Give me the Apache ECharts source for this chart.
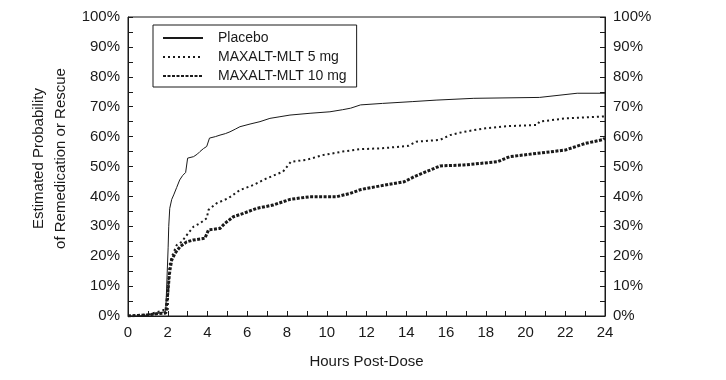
<!DOCTYPE html>
<html>
<head>
<meta charset="utf-8">
<script src="https://cdn.jsdelivr.net/npm/echarts@6/dist/echarts.min.js"></script>
<style>html,body{margin:0;padding:0;background:#fff}#c{width:726px;height:380px}</style>
</head>
<body>
<div id="c"></div>
<script>
var seriesNames = ['Placebo', 'MAXALT-MLT 5 mg', 'MAXALT-MLT 10 mg'];
var xTicks = [0, 2, 4, 6, 8, 10, 12, 14, 16, 18, 20, 22, 24];
var yTicks = [0, 10, 20, 30, 40, 50, 60, 70, 80, 90, 100];

var placeboHours = [0, 0.5, 1.0, 1.3, 1.6, 1.9, 2.0, 2.02, 2.05, 2.1, 2.2, 2.3, 2.45, 2.6, 2.75, 2.9, 3.0, 3.3, 3.5, 3.62, 3.8, 3.96, 4.1, 4.4, 4.63, 4.9, 5.13, 5.4, 5.63, 6.14, 6.64, 7.14, 7.6, 8.15, 9.16, 10.16, 10.8, 11.2, 11.7, 12.8, 14.3, 15.5, 17.4, 20.7, 22.6, 24];
var placeboPct = [0, 0, 0.3, 0.6, 1.0, 1.5, 1.5, 23, 30, 36, 39, 40.5, 43, 45.5, 47, 48, 52.8, 53.3, 54.2, 55, 56, 56.7, 59.5, 60, 60.5, 61, 61.6, 62.5, 63.3, 64.2, 65, 66.1, 66.6, 67.2, 67.8, 68.3, 69, 69.5, 70.6, 71.1, 71.7, 72.2, 72.8, 73.1, 74.5, 74.5];

var mlt5Hours = [0, 0.6, 1.0, 1.3, 1.6, 1.8, 2.0, 2.03, 2.07, 2.11, 2.2, 2.28, 2.45, 2.7, 3.03, 3.3, 3.62, 3.96, 4.05, 4.46, 5.05, 5.63, 6.3, 6.97, 7.8, 8.2, 8.97, 9.8, 10.8, 11.7, 12.8, 14.1, 14.5, 15.7, 16.2, 16.9, 18, 19.1, 20.6, 20.7, 22, 23.9, 24];
var mlt5Pct = [0, 0.3, 0.5, 1.0, 1.5, 2.0, 2.2, 10, 15, 17.7, 19.8, 21, 23.7, 24.8, 27.7, 29.9, 31, 32.7, 35.5, 37.7, 39.4, 42.1, 43.8, 46, 48.3, 51.6, 52.2, 53.8, 55, 55.8, 56.1, 56.9, 58.3, 58.9, 60.5, 61.6, 62.8, 63.5, 63.9, 65, 66.1, 66.7, 66.7];

var mlt10Hours = [0, 0.5, 1.0, 1.5, 1.9, 2.0, 2.03, 2.07, 2.11, 2.2, 2.37, 2.62, 2.95, 3.28, 3.87, 4.05, 4.63, 4.88, 5.3, 5.8, 6.47, 7.3, 8.15, 9.16, 10.5, 11.17, 11.67, 12, 13.9, 14.4, 15.2, 15.7, 16.9, 18.6, 19.2, 20.6, 22, 23, 23.9, 24];
var mlt10Pct = [0, 0.2, 0.4, 0.8, 1.0, 1.0, 9.8, 13, 15.4, 18.7, 21, 23.2, 24.8, 25.4, 26, 28.8, 29.3, 31, 33.2, 34.3, 36, 37.1, 39, 39.9, 39.9, 41, 42.2, 42.7, 44.9, 46.6, 48.8, 50.2, 50.5, 51.6, 53.3, 54.4, 55.5, 57.7, 59, 59.5];

function zip(xs, ys) { return xs.map(function (x, i) { return [x, ys[i]]; }); }

var FONT = 'Liberation Sans, Arial, Helvetica, sans-serif';
var INK = '#1a1a1a';

function yAxisCfg(pos) {
  return {
    type: 'value', position: pos, min: yTicks[0], max: yTicks[yTicks.length - 1], interval: 10,
    axisLine: { show: true, lineStyle: { color: INK, width: 1 } },
    axisTick: { show: true, inside: true, length: 5, lineStyle: { color: INK } },
    minorTick: { show: true, splitNumber: 2, length: 5, lineStyle: { color: INK } },
    splitLine: { show: false },
    axisLabel: { formatter: '{value}%', fontFamily: FONT, fontSize: 15, color: INK, margin: 8 }
  };
}

var leftY = yAxisCfg('left');
leftY.name = 'Estimated Probability\nof Remedication or Rescue';
leftY.nameLocation = 'middle';
leftY.nameRotate = 90;
leftY.nameGap = 56;
leftY.nameMoveOverlap = false;
leftY.nameTextStyle = { fontFamily: FONT, fontSize: 15, color: INK, lineHeight: 22, padding: [0, 0, 0, 16] };
var rightY = yAxisCfg('right');

var option = {
  animation: false,
  backgroundColor: '#fff',
  grid: { left: 128, right: 121, top: 17, bottom: 64, show: true, borderColor: INK, borderWidth: 1, backgroundColor: 'transparent' },
  legend: {
    orient: 'vertical', left: 153, top: 25,
    itemWidth: 40, itemHeight: 12, itemGap: 3,
    padding: [5, 10, 3, 9],
    borderColor: INK, borderWidth: 1,
    itemStyle: { opacity: 0 },
    textStyle: { fontFamily: FONT, fontSize: 14, color: INK, lineHeight: 16, padding: [0, 0, 0, 10] },
    data: seriesNames
  },
  xAxis: {
    type: 'value', min: xTicks[0], max: xTicks[xTicks.length - 1], interval: 2,
    name: 'Hours Post-Dose', nameLocation: 'middle', nameGap: 38,
    nameTextStyle: { fontFamily: FONT, fontSize: 15, color: INK },
    axisLine: { show: true, lineStyle: { color: INK, width: 1 } },
    axisTick: { show: true, inside: true, length: 5, lineStyle: { color: INK } },
    minorTick: { show: true, splitNumber: 2, length: 5, lineStyle: { color: INK } },
    splitLine: { show: false },
    axisLabel: { fontFamily: FONT, fontSize: 15, color: INK, margin: 9 }
  },
  yAxis: [leftY, rightY],
  series: [
    { name: seriesNames[0], type: 'line', symbol: 'none', data: zip(placeboHours, placeboPct),
      lineStyle: { color: INK, width: 1, type: 'solid' }, itemStyle: { color: INK } },
    { name: seriesNames[1], type: 'line', symbol: 'none', data: zip(mlt5Hours, mlt5Pct),
      lineStyle: { color: INK, width: 2, type: [2, 3] }, itemStyle: { color: INK } },
    { name: seriesNames[2], type: 'line', symbol: 'none', data: zip(mlt10Hours, mlt10Pct),
      lineStyle: { color: INK, width: 3, type: [3, 1.5] }, itemStyle: { color: INK } }
  ]
};
var chart = echarts.init(document.getElementById('c'), null, { renderer: 'canvas' });
chart.setOption(option);
</script>
</body>
</html>
